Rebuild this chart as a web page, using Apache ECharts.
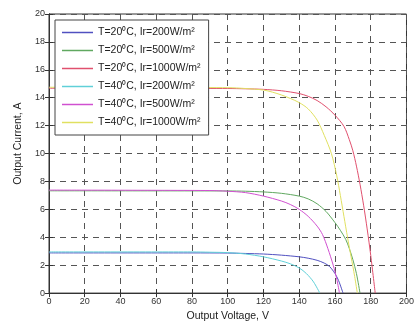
<!DOCTYPE html>
<html>
<head>
<meta charset="utf-8">
<script src="https://cdn.jsdelivr.net/npm/echarts@6/dist/echarts.min.js"></script>
<style>
  html, body { margin: 0; padding: 0; background: #fff; }
  #main { width: 417px; height: 327px; }
</style>
</head>
<body>
<div id="main"></div>
<script>
// [voltage V, current A]
var t20Ir200 = [[0, 2.88], [80, 2.88], [100, 2.87], [110, 2.84], [120, 2.8], [130, 2.72], [140, 2.6], [145, 2.5], [150, 2.35], [154, 2.15], [157, 1.9], [160, 1.4], [162, 0.9], [164.5, 0]];
var t20Ir500 = [[0, 7.33], [100, 7.32], [110, 7.3], [120, 7.25], [130, 7.15], [140, 6.95], [145, 6.75], [150, 6.4], [155, 5.85], [160, 5.05], [163, 4.5], [166, 3.85], [168, 3.2], [170, 2.4], [172, 1.4], [174, 0]];
var t20Ir1000 = [[0, 14.68], [100, 14.66], [110, 14.64], [120, 14.6], [130, 14.5], [140, 14.3], [145, 14.1], [150, 13.8], [155, 13.35], [160, 12.75], [165, 11.95], [168, 11.0], [170, 10.2], [172, 9.1], [174, 7.8], [176, 6.3], [178, 4.6], [180, 2.7], [182.5, 0]];
var t40Ir200 = [[0, 2.95], [80, 2.95], [90, 2.93], [100, 2.9], [110, 2.8], [120, 2.6], [130, 2.3], [135, 2.1], [140, 1.8], [144, 1.4], [148, 0.8], [151.5, 0]];
var t40Ir500 = [[0, 7.38], [90, 7.35], [100, 7.3], [110, 7.2], [120, 6.95], [130, 6.6], [135, 6.35], [140, 6.0], [145, 5.5], [150, 4.8], [153, 4.2], [156, 3.2], [159, 2.0], [161, 1.0], [162.5, 0]];
var t40Ir1000 = [[0, 14.75], [100, 14.72], [110, 14.66], [120, 14.55], [125, 14.4], [130, 14.2], [135, 13.95], [140, 13.65], [145, 13.2], [150, 12.4], [154, 11.3], [158, 10.0], [161, 8.4], [163, 7.0], [165, 5.5], [167, 4.0], [169, 2.6], [171, 1.2], [172.5, 0]];

var seriesNames = ['T=20\u2070C, Ir=200W/m\u00b2', 'T=20\u2070C, Ir=500W/m\u00b2', 'T=20\u2070C, Ir=1000W/m\u00b2',
                   'T=40\u2070C, Ir=200W/m\u00b2', 'T=40\u2070C, Ir=500W/m\u00b2', 'T=40\u2070C, Ir=1000W/m\u00b2'];
var seriesData = [t20Ir200, t20Ir500, t20Ir1000, t40Ir200, t40Ir500, t40Ir1000];
var colors = ['#5050c0', '#60a860', '#e0506e', '#60d0d8', '#d050d0', '#e0e060'];

var chart = echarts.init(document.getElementById('main'));
var font = 'Liberation Sans';

var splitStyle = { show: true, lineStyle: { color: '#555', type: [6, 5], width: 1 } };

var series = [];
var legendData = [];
for (var i = 0; i < seriesData.length; i++) {
  series.push({
    name: seriesNames[i],
    type: 'line',
    data: seriesData[i],
    symbol: 'none',
    smooth: 0.3,
    lineStyle: { width: 1, color: colors[i] },
    itemStyle: { color: colors[i] }
  });
  legendData.push({
    name: seriesNames[i],
    icon: 'rect',
    itemStyle: { color: colors[i], borderWidth: 0 }
  });
}

chart.setOption({
  backgroundColor: '#fff',
  animation: false,
  grid: { left: 49, right: 8, top: 14, bottom: 30, show: true, borderColor: '#333', borderWidth: 1 },
  legend: {
    orient: 'vertical',
    left: 55, top: 20,
    backgroundColor: '#fff',
    borderColor: '#444', borderWidth: 1, borderRadius: 0,
    padding: [7, 8, 7, 7],
    itemGap: 7, itemWidth: 31, itemHeight: 1.5,
    textStyle: { fontFamily: font, fontSize: 10.5, color: '#222' },
    data: legendData
  },
  xAxis: [{
    type: 'value', min: 0, max: 200, interval: 20,
    name: 'Output Voltage, V', nameLocation: 'middle', nameGap: 13,
    nameTextStyle: { fontFamily: font, fontSize: 10.5, color: '#222' },
    axisLine: { show: true, lineStyle: { color: '#333' } },
    axisTick: { show: true, inside: true, length: 4, lineStyle: { color: '#333' } },
    axisLabel: { fontFamily: font, fontSize: 9, color: '#333', margin: 4 },
    splitLine: splitStyle
  }, {
    type: 'value', position: 'top', min: 0, max: 200, interval: 20,
    axisLine: { show: true, lineStyle: { color: '#333' } },
    axisTick: { show: true, inside: true, length: 4, lineStyle: { color: '#333' } },
    axisLabel: { show: false }, splitLine: { show: false }
  }],
  yAxis: [{
    type: 'value', min: 0, max: 20, interval: 2,
    name: 'Output Current, A', nameLocation: 'middle', nameGap: 22,
    nameTextStyle: { fontFamily: font, fontSize: 10.5, color: '#222', padding: [0, 0, 0, 20] },
    axisLine: { show: true, lineStyle: { color: '#333' } },
    axisTick: { show: true, inside: true, length: 4, lineStyle: { color: '#333' } },
    axisLabel: { fontFamily: font, fontSize: 9, color: '#333', margin: 4 },
    splitLine: splitStyle
  }, {
    type: 'value', position: 'right', min: 0, max: 20, interval: 2,
    axisLine: { show: true, lineStyle: { color: '#333' } },
    axisTick: { show: true, inside: true, length: 4, lineStyle: { color: '#333' } },
    axisLabel: { show: false }, splitLine: { show: false }
  }],
  series: series
});
</script>
</body>
</html>
